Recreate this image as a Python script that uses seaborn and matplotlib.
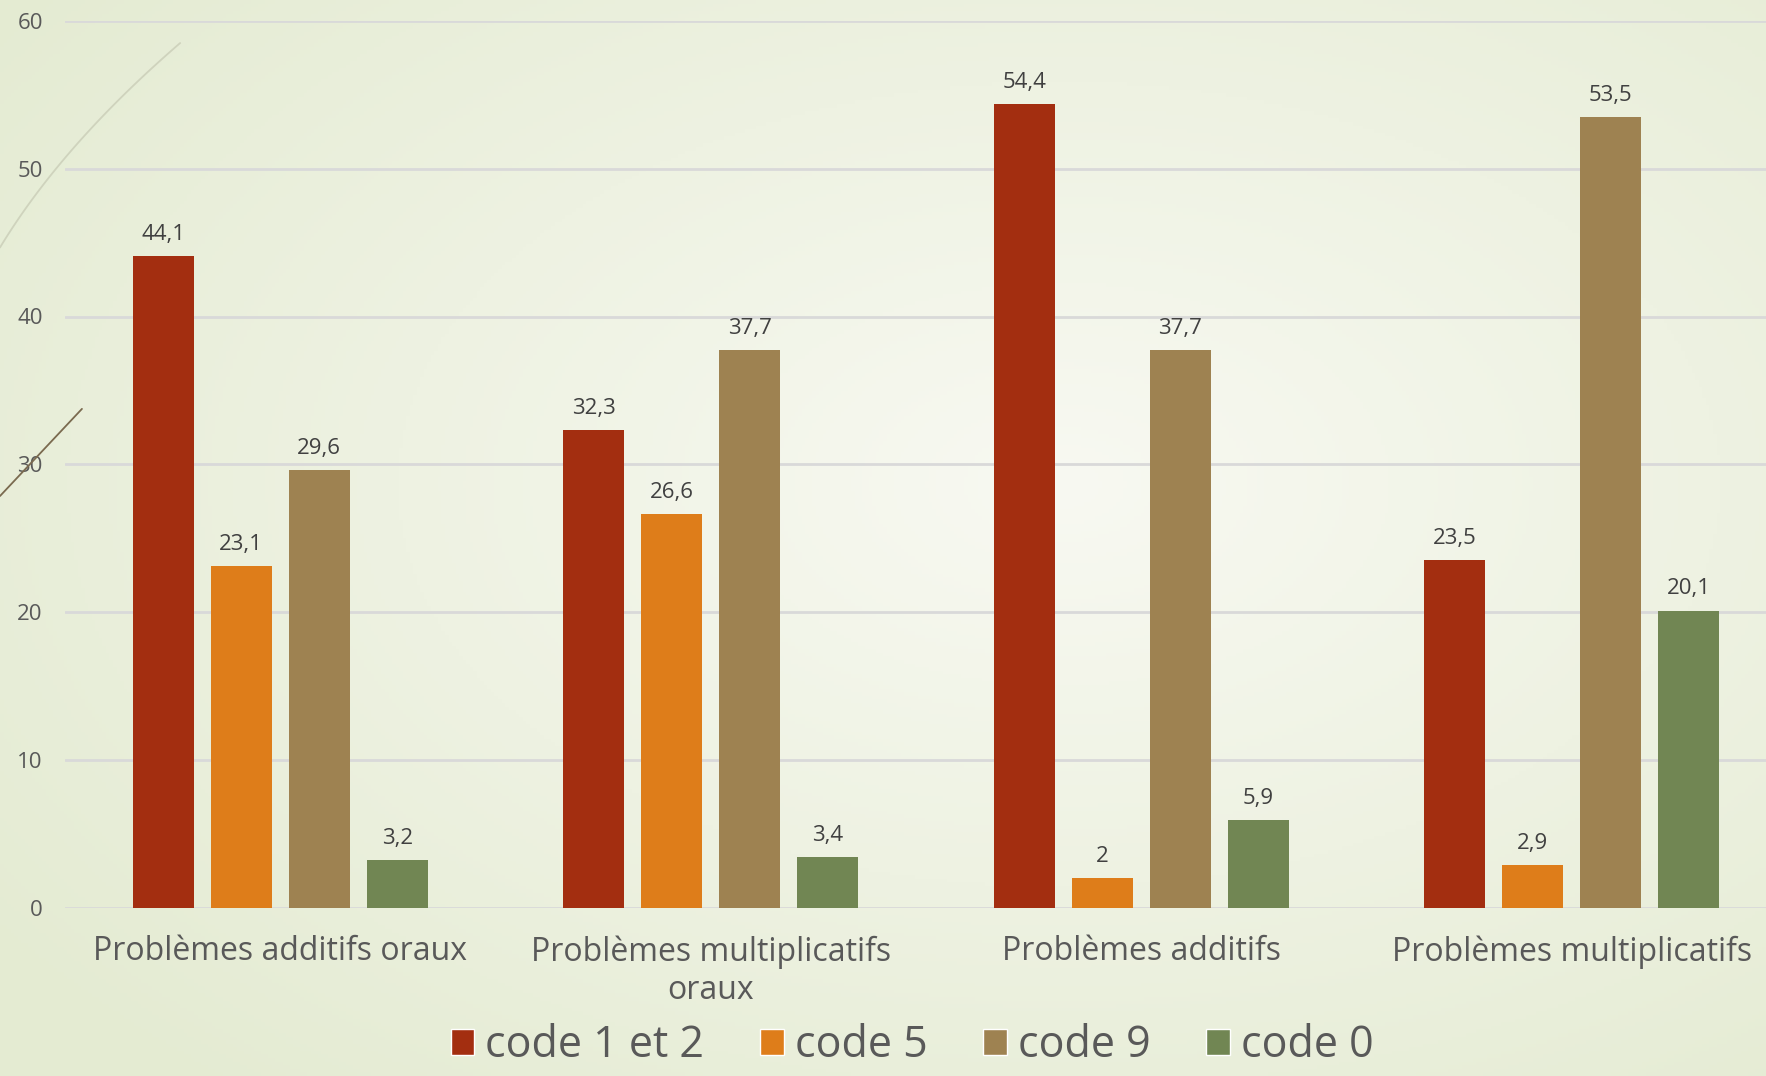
import numpy as np
import pandas as pd
import seaborn as sns
import matplotlib.pyplot as plt
from matplotlib.patches import Patch
from matplotlib.lines import Line2D

# data
categories = ["Problèmes additifs oraux", "Problèmes multiplicatifs\noraux",
              "Problèmes additifs", "Problèmes multiplicatifs"]
series = ["code 1 et 2", "code 5", "code 9", "code 0"]
code_12 = [44.1, 32.3, 54.4, 23.5]
code_5 = [23.1, 26.6, 2.0, 2.9]
code_9 = [29.6, 37.7, 37.7, 53.5]
code_0 = [3.2, 3.4, 5.9, 20.1]
colors = ["#A32E10", "#DE7D1A", "#9E8251", "#718653"]

rows = []
for name, vals in zip(series, [code_12, code_5, code_9, code_0]):
    for cat, v in zip(categories, vals):
        rows.append({"categorie": cat, "code": name, "valeur": v})
df = pd.DataFrame(rows)

sns.set_theme(style="white")
plt.rcParams["font.family"] = ["Open Sans", "DejaVu Sans"]
text_grey = "#595959"

fig = plt.figure(figsize=(17.66, 10.76), dpi=100)

# soft radial background like the slide theme
bg = fig.add_axes([0, 0, 1, 1], zorder=-10)
yy, xx = np.mgrid[0:1:300j, 0:1:500j]
r = np.clip(np.sqrt(((xx - 0.6) / 0.75) ** 2 + ((yy - 0.45) / 0.75) ** 2), 0, 1)
c_in = np.array([248, 249, 242]) / 255
c_out = np.array([228, 235, 210]) / 255
img = c_in[None, None, :] * (1 - r[..., None]) + c_out[None, None, :] * r[..., None]
bg.imshow(img, aspect="auto", extent=[0, 1, 0, 1], origin="upper")
bg.axis("off")

# decorative swooshes on the left edge
t = np.linspace(0, 1, 50)
x0, xm, x1 = 0.0, 0.035, 0.102
y0, ym, y1 = 0.770, 0.865, 0.960
fig.add_artist(Line2D((1 - t) ** 2 * x0 + 2 * t * (1 - t) * xm + t ** 2 * x1,
                      (1 - t) ** 2 * y0 + 2 * t * (1 - t) * ym + t ** 2 * y1,
                      transform=fig.transFigure, color="#cfd3bd", lw=1.3))
fig.add_artist(Line2D([0.0, 0.0464], [0.539, 0.620], transform=fig.transFigure,
                      color="#7a6a4f", lw=1.3))

ax = fig.add_axes([65 / 1766, 1 - 907.5 / 1076, (1787 - 65) / 1766, (907.5 - 21) / 1076])
ax.set_facecolor("none")

sns.barplot(data=df, x="categorie", y="valeur", hue="code", order=categories,
            hue_order=series, palette=colors, width=0.725, gap=0.22,
            saturation=1, linewidth=0, ax=ax, legend=False, zorder=3)

for cont in ax.containers:
    labels = [f"{b.get_height():g}".replace(".", ",") for b in cont]
    ax.bar_label(cont, labels=labels, padding=8, fontsize=16, color="#404040")

ax.set_ylim(0, 60)
ax.set_yticks(range(0, 61, 10))
ax.yaxis.grid(True, color="#d9d9d9", lw=2, zorder=0)
ax.set_axisbelow(True)
for s in ax.spines.values():
    s.set_visible(False)
ax.tick_params(axis="y", length=0, pad=16, labelsize=16, labelcolor=text_grey)
ax.tick_params(axis="x", length=0, pad=20, labelsize=23, labelcolor=text_grey)
ax.set_xlabel("")
ax.set_ylabel("")
ax.set_xlim(-0.5, 3.5)

handles = [Patch(facecolor=c, label=s) for c, s in zip(colors, series)]
fig.legend(handles=handles, loc="center", bbox_to_anchor=(912 / 1766, 1 - 1046 / 1076),
           ncol=4, frameon=False, fontsize=31, labelcolor=text_grey,
           handlelength=0.55, handleheight=0.55, handletextpad=0.25, columnspacing=1.3,
           borderpad=0, borderaxespad=0)

fig.savefig("out.png", dpi=100)
plt.close(fig)
